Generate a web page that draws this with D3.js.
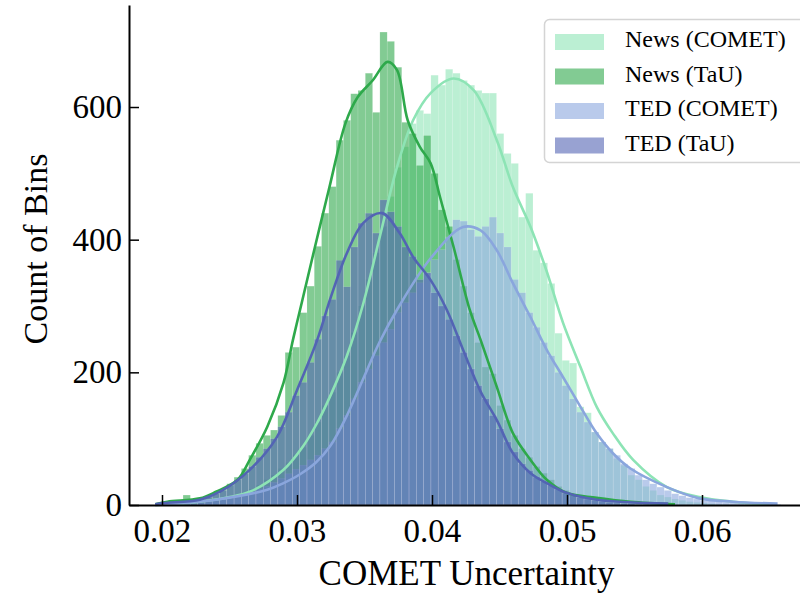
<!DOCTYPE html>
<html>
<head>
<meta charset="utf-8">
<script src="https://cdn.jsdelivr.net/npm/d3@7"></script>
<style>
    body { margin: 0; background: #fff; }
    svg { display: block; font-family: "Liberation Serif", "Times New Roman", serif; }
    .axis text { font-family: "Liberation Serif", serif; font-size: 33px; fill: #000; }
    .axis path, .axis line { stroke: #000; }
</style>
</head>
<body>
<div id="chart"></div>
<script>
// histogram bins (common for all four series)
const binStart = 0.0194;
const binWidth = 0.00054;

const seriesNames = ['News (COMET)', 'News (TaU)', 'TED (COMET)', 'TED (TaU)'];
const seriesColors = ['#8de4b5', '#2ea94b', '#8aa6dd', '#5364b4'];

const newsComet = [
    0, 0, 1, 2, 3, 4, 5, 6, 8, 10,
    12, 15, 19, 24, 30, 38, 45, 55, 64, 76,
    87, 105, 125, 150, 170, 200, 225, 260, 300, 340,
    380, 420, 465, 509, 540, 575, 595, 590, 648, 633,
    657, 651, 640, 633, 625, 621, 621, 560, 530, 515,
    434, 470, 384, 365, 334, 259, 218, 214, 148, 139,
    110, 95, 85, 70, 60, 45, 38, 28, 22, 15,
    12, 9, 7, 5, 4, 3, 2, 1, 1, 0,
    0, 0, 0, 0, 0, 0
];
const newsTau = [
    0, 2, 3, 4, 15, 6, 9, 12, 17, 24,
    32, 42, 55, 75, 93, 105, 113, 135, 230, 238,
    290, 330, 390, 440, 480, 550, 580, 620, 625, 651,
    592, 713, 699, 660, 577, 560, 512, 557, 500, 445,
    420, 370, 330, 290, 245, 208, 198, 150, 128, 105,
    85, 72, 58, 48, 38, 28, 22, 17, 14, 12,
    12, 11, 9, 7, 5, 4, 3, 2, 1, 1,
    0, 0, 0, 0, 0, 0, 0, 0, 0, 0,
    0, 0, 0, 0, 0, 0
];
const tedComet = [
    0, 1, 1, 2, 2, 3, 4, 5, 7, 9,
    11, 14, 17, 20, 24, 28, 34, 40, 47, 54,
    60, 68, 75, 85, 95, 115, 135, 160, 185, 205,
    225, 245, 265, 290, 305, 320, 335, 350, 370, 385,
    404, 430, 428, 415, 405, 420, 434, 410, 389, 340,
    320, 290, 268, 245, 225, 200, 180, 160, 140, 125,
    110, 95, 85, 75, 62, 55, 45, 38, 32, 27,
    22, 17, 14, 11, 9, 7, 6, 5, 4, 4,
    3, 3, 2, 2, 2, 1
];
const tedTau = [
    0, 2, 3, 4, 5, 7, 9, 12, 17, 22,
    30, 38, 47, 58, 72, 85, 100, 118, 140, 165,
    185, 215, 250, 285, 310, 369, 329, 389, 425, 440,
    410, 460, 442, 420, 389, 375, 340, 350, 320, 300,
    280, 255, 230, 205, 180, 160, 135, 115, 95, 80,
    62, 52, 42, 35, 30, 24, 18, 14, 11, 9,
    7, 5, 4, 3, 2, 2, 1, 1, 1, 0,
    0, 0, 0, 0, 0, 0, 0, 0, 0, 0,
    0, 0, 0, 0, 0, 0
];

// KDE curves: [uncertainty, count]
const newsCometKde = [
    [0.0195, 0], [0.0228, 5], [0.0265, 20], [0.0290, 53], [0.0304, 87], [0.0315, 124],
    [0.0325, 166], [0.0337, 225], [0.0349, 303], [0.0362, 410], [0.0374, 509], [0.0386, 580],
    [0.0399, 621], [0.0416, 643], [0.0431, 625], [0.0448, 550], [0.0460, 479], [0.0473, 419],
    [0.0485, 352], [0.0497, 275], [0.0510, 208], [0.0522, 148], [0.0534, 108], [0.0549, 68],
    [0.0574, 27], [0.0598, 12], [0.0623, 5], [0.0650, 1]
];
const newsTauKde = [
    [0.0195, 1], [0.0204, 5], [0.0228, 10], [0.0240, 20], [0.0256, 38], [0.0265, 68],
    [0.0278, 118], [0.0290, 184], [0.0297, 249], [0.0304, 309], [0.0314, 395], [0.0324, 479],
    [0.0336, 576], [0.0345, 615], [0.0356, 640], [0.0367, 668], [0.0374, 656], [0.0382, 580],
    [0.0391, 540], [0.0399, 515], [0.0406, 464], [0.0416, 389], [0.0428, 294], [0.0436, 249],
    [0.0448, 178], [0.0460, 108], [0.0473, 68], [0.0485, 38], [0.0500, 18], [0.0522, 11],
    [0.0547, 5], [0.0580, 1]
];
const tedCometKde = [
    [0.0195, 0], [0.0240, 8], [0.0278, 23], [0.0290, 33], [0.0302, 46], [0.0314, 64],
    [0.0325, 90], [0.0337, 135], [0.0349, 190], [0.0361, 245], [0.0374, 294], [0.0399, 372],
    [0.0423, 419], [0.0436, 414], [0.0448, 384], [0.0460, 334], [0.0473, 283], [0.0485, 234],
    [0.0497, 193], [0.0510, 148], [0.0522, 108], [0.0534, 78], [0.0547, 55], [0.0574, 27],
    [0.0598, 10], [0.0623, 5], [0.0656, 2]
];
const tedTauKde = [
    [0.0195, 1], [0.0201, 3], [0.0228, 8], [0.0243, 20], [0.0265, 53], [0.0285, 102],
    [0.0300, 173], [0.0315, 249], [0.0325, 313], [0.0337, 380], [0.0349, 425], [0.0363, 440],
    [0.0376, 410], [0.0386, 374], [0.0399, 339], [0.0411, 294], [0.0423, 234], [0.0436, 171],
    [0.0448, 128], [0.0460, 78], [0.0473, 48], [0.0485, 33], [0.0500, 18], [0.0522, 8],
    [0.0575, 2]
];

const xTicks = [0.02, 0.03, 0.04, 0.05, 0.06];
const yTicks = [0, 200, 400, 600];

const config = {
    width: 800,
    height: 593,
    margin: { top: 5, right: 0, bottom: 88, left: 129 },
    fillOpacity: 0.6
};

const innerW = config.width - config.margin.left - config.margin.right;
const innerH = config.height - config.margin.top - config.margin.bottom;

const svg = d3.select('#chart').append('svg')
    .attr('width', config.width)
    .attr('height', config.height);

const chart = svg.append('g')
    .attr('transform', `translate(${config.margin.left},${config.margin.top})`);

const xScale = d3.scaleLinear().domain([0.017556, 0.067259]).range([0, innerW]);
const yScale = d3.scaleLinear().domain([0, 753.8]).range([innerH, 0]);

const series = [
    { name: seriesNames[0], color: seriesColors[0], counts: newsComet, kde: newsCometKde },
    { name: seriesNames[1], color: seriesColors[1], counts: newsTau, kde: newsTauKde },
    { name: seriesNames[2], color: seriesColors[2], counts: tedComet, kde: tedCometKde },
    { name: seriesNames[3], color: seriesColors[3], counts: tedTau, kde: tedTauKde }
];

// histogram bars, layered in order
series.forEach(s => {
    const bins = s.counts.map((c, i) => ({
        x0: binStart + i * binWidth,
        x1: binStart + (i + 1) * binWidth,
        count: c
    })).filter(b => b.count > 0);

    chart.append('g')
        .selectAll('rect')
        .data(bins)
        .join('rect')
        .attr('x', d => xScale(d.x0))
        .attr('width', d => xScale(d.x1) - xScale(d.x0))
        .attr('y', d => yScale(d.count))
        .attr('height', d => innerH - yScale(d.count))
        .attr('fill', s.color)
        .attr('fill-opacity', config.fillOpacity)
        .attr('stroke', '#ffffff')
        .attr('stroke-opacity', 0.25)
        .attr('stroke-width', 0.5);
});

// kde lines on top
const line = d3.line()
    .x(d => xScale(d[0]))
    .y(d => yScale(d[1]))
    .curve(d3.curveCatmullRom.alpha(0.5));

series.forEach(s => {
    chart.append('path')
        .datum(s.kde)
        .attr('fill', 'none')
        .attr('stroke', s.color)
        .attr('stroke-width', 2.6)
        .attr('stroke-linejoin', 'round')
        .attr('d', line);
});

// axes with inward ticks
const xAxis = d3.axisBottom(xScale)
    .tickValues(xTicks)
    .tickFormat(d3.format('.2f'))
    .tickSizeInner(-10)
    .tickSizeOuter(0)
    .tickPadding(14);

const yAxis = d3.axisLeft(yScale)
    .tickValues(yTicks)
    .tickSizeInner(-10)
    .tickSizeOuter(0)
    .tickPadding(7);

const xAxisG = chart.append('g')
    .attr('class', 'axis x-axis')
    .attr('transform', `translate(0,${innerH})`)
    .call(xAxis);

const yAxisG = chart.append('g')
    .attr('class', 'axis y-axis')
    .call(yAxis);

xAxisG.select('.domain').attr('stroke-width', 2);
yAxisG.select('.domain').attr('stroke-width', 2);
chart.selectAll('.tick line').attr('stroke-width', 1.5);

// axis titles
svg.append('text')
    .attr('x', config.margin.left + innerW / 2 + 2)
    .attr('y', 585)
    .attr('text-anchor', 'middle')
    .attr('font-size', '35px')
    .text('COMET Uncertainty');

svg.append('text')
    .attr('transform', 'translate(47,249) rotate(-90)')
    .attr('text-anchor', 'middle')
    .attr('font-size', '34px')
    .text('Count of Bins');

// legend
const legend = svg.append('g').attr('class', 'legend');

legend.append('rect')
    .attr('x', 544.5)
    .attr('y', 19.5)
    .attr('width', 270)
    .attr('height', 143)
    .attr('rx', 5)
    .attr('fill', '#fff')
    .attr('fill-opacity', 0.8)
    .attr('stroke', '#d4d4d4')
    .attr('stroke-width', 1.5);

const rows = legend.selectAll('.row')
    .data(series)
    .join('g')
    .attr('class', 'row')
    .attr('transform', (d, i) => `translate(555,${34 + i * 34.5})`);

rows.append('rect')
    .attr('width', 49)
    .attr('height', 16)
    .attr('fill', d => d.color)
    .attr('fill-opacity', config.fillOpacity);

rows.append('text')
    .attr('x', 70)
    .attr('y', 13)
    .attr('font-size', '24px')
    .text(d => d.name);
</script>
</body>
</html>
